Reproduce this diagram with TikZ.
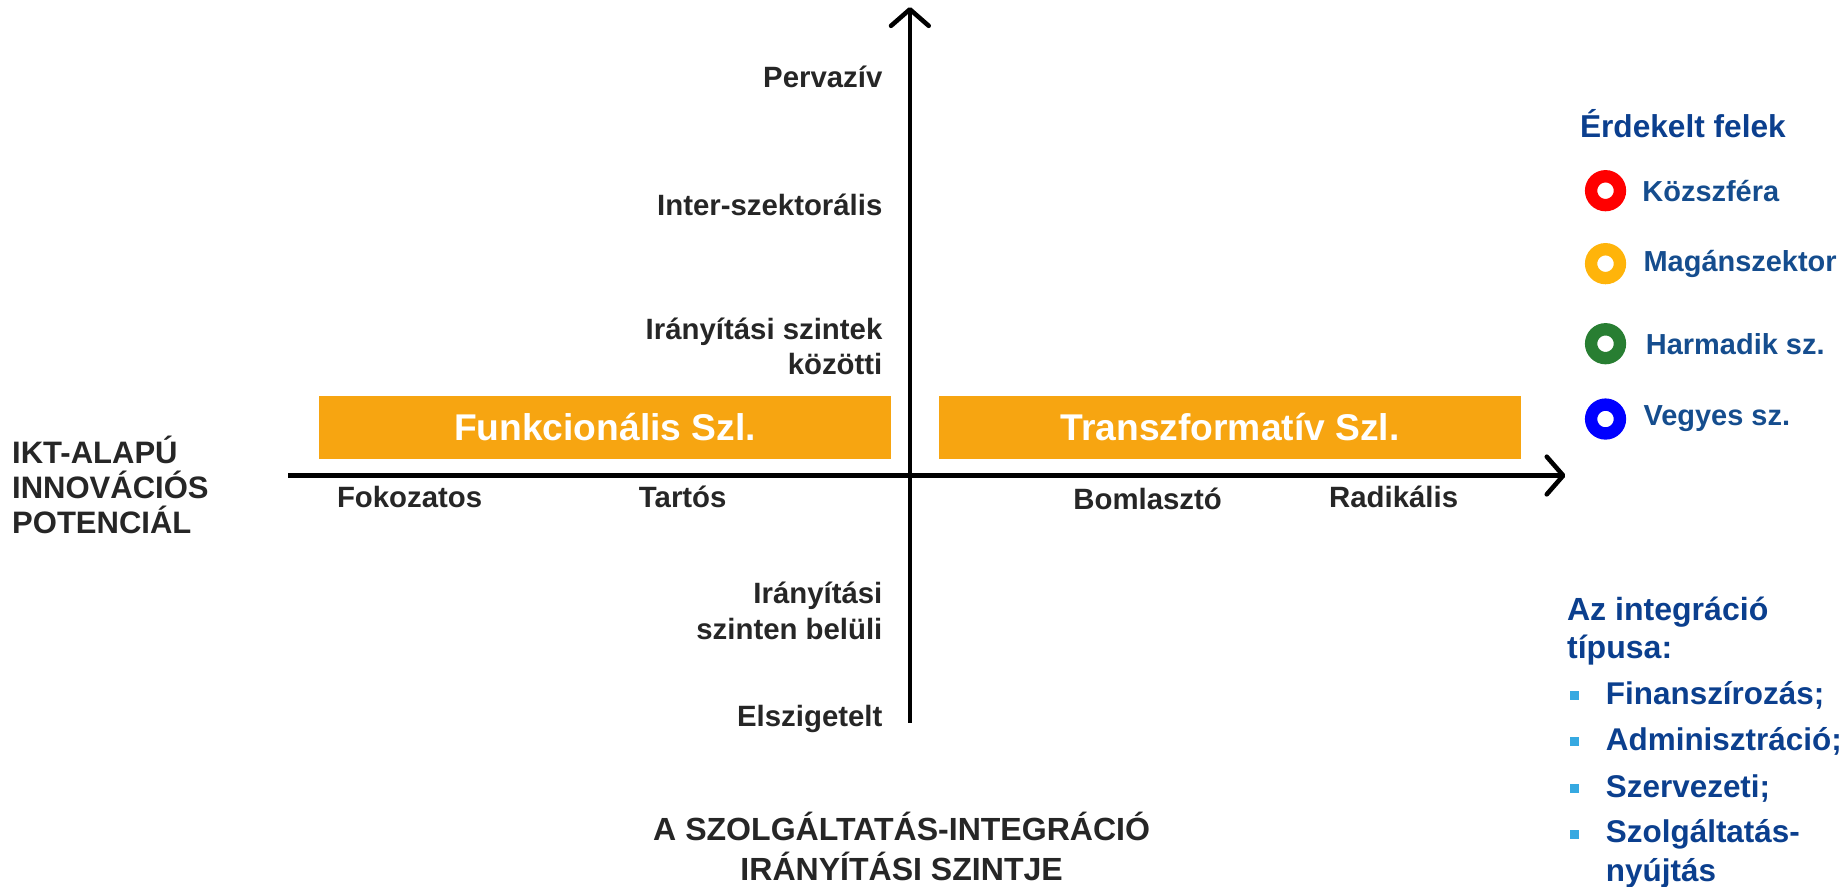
\documentclass[tikz,border=0pt]{standalone}
\usepackage{fontspec}
\setmainfont{Liberation Sans}
\usetikzlibrary{arrows.meta}
\definecolor{axisgray}{HTML}{262626}
\definecolor{barorange}{HTML}{F7A511}
\definecolor{legblue}{HTML}{154D8E}
\definecolor{headblue}{HTML}{0B3F8E}
\definecolor{bulletblue}{HTML}{36A9E1}
\definecolor{ringyellow}{HTML}{FFB40A}
\definecolor{ringgreen}{HTML}{287E32}

\begin{document}
\begin{tikzpicture}[x=0.02cm,y=-0.02cm,
    every node/.style={font=\bfseries\fontsize{14.2}{17}\selectfont,text=axisgray,inner sep=0pt},
    axis/.style={black,line width=2.2pt,-{Straight Barb[length=2.8mm,width=6.4mm,line cap=round,line join=round]}},
    ylab/.style={anchor=east,align=right},
    bar/.style={fill=barorange,minimum height=1.08cm,text=white,font=\bfseries\fontsize{18}{21}\selectfont},
    ring/.style={circle,draw=#1,line width=0.21cm,minimum size=0.49cm},
    legtext/.style={anchor=west,text=legblue,font=\bfseries\fontsize{14}{17}\selectfont},
    typtext/.style={anchor=west,text=headblue,align=left,font=\bfseries\fontsize{15.2}{18.8}\selectfont},
    bullet/.style={fill=bulletblue,minimum size=0.155cm}]

    \useasboundingbox (0,0) rectangle (1570,753);

    % Innovation bars
    \node[bar,minimum width=9.72cm] (funk) at (514,363) {Funkcionális Szl.};
    \node[bar,minimum width=9.88cm] (trans) at (1045,363) {Transzformatív Szl.};

    % Axis
    \coordinate (xbeg) at (245,404);
    \coordinate (xend) at (1330,404);
    \coordinate (ybeg) at (773,614);
    \coordinate (yend) at (773,6);
    \draw[axis] (xbeg) -- (xend);
    \draw[axis] (ybeg) -- (yend);

    % Levels of governance
    \node[ylab] (perv) at (750,65) {Pervazív};
    \node[ylab] (inter) at (750,174) {Inter-szektorális};
    \node[ylab] (kozotti) at (750,294) {Irányítási szintek\\közötti};
    \node[ylab] (belul) at (750,519) {Irányítási\\szinten belüli};
    \node[ylab] (elsz) at (750,611) {Elszigetelt};

    % Innovation potential
    \node (fok) at (348,422) {Fokozatos};
    \node (tart) at (580,422) {Tartós};
    \node (boml) at (975,424) {Bomlasztó};
    \node (rad) at (1184,422) {Radikális};

    % Axis titles
    \node[anchor=west,align=left,font=\bfseries\fontsize{15}{17}\selectfont] (ikt) at (10,412) {IKT-ALAPÚ\\INNOVÁCIÓS\\POTENCIÁL};
    \node[align=center,font=\bfseries\fontsize{15.5}{19.3}\selectfont] (szint) at (766,719) {A SZOLGÁLTATÁS-INTEGRÁCIÓ\\IRÁNYÍTÁSI SZINTJE};

    % Legends
    \node[anchor=west,text=headblue,font=\bfseries\fontsize{15.3}{17}\selectfont] (felek) at (1342,105) {Érdekelt felek};
    \foreach \c/\y/\x/\t [count=\i] in {red/162/1395/Közszféra, ringyellow/224/1396/Magánszektor, ringgreen/292/1398/Harmadik sz., blue/356/1396/Vegyes sz.} {
        \node[ring=\c] (ring\i) at (1364,\y) {};
        \node[legtext] (leg\i) at (\x,\y) {\t};
    }

    \node[typtext,font=\bfseries\fontsize{15.5}{18.4}\selectfont] (integ) at (1331,536) {Az integráció\\típusa:};
    \foreach \y/\t [count=\i] in {591/Finanszírozás;, 630/Adminisztráció;, 670/Szervezeti;} {
        \node[bullet] (bul\i) at (1338,\y) {};
        \node[typtext] (typ\i) at (1364,\y) {\t};
    }
    \node[bullet] (bul4) at (1338,709) {};
    \node[typtext] (typ4) at (1364,725) {Szolgáltatás-\\nyújtás};

\end{tikzpicture}
\end{document}
